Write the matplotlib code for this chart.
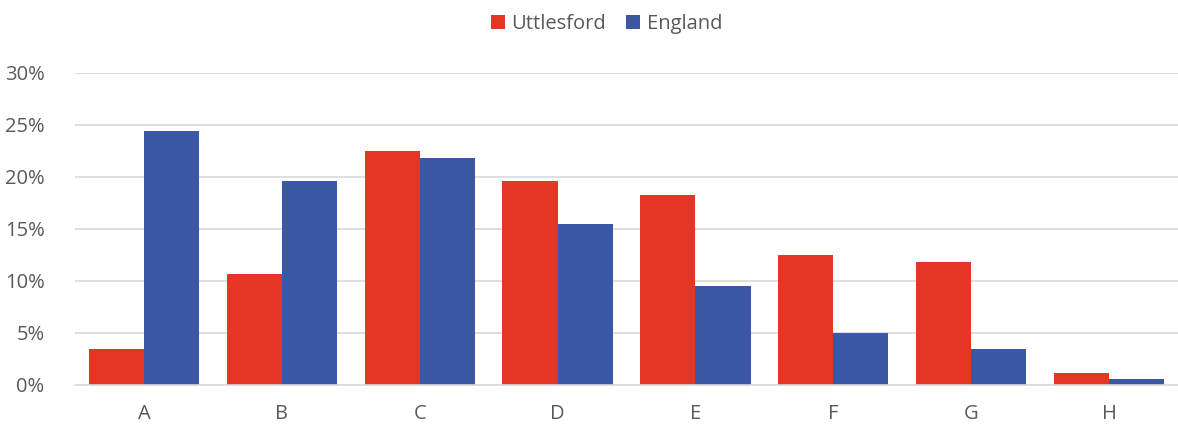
import matplotlib

matplotlib.use("Agg")
import matplotlib.pyplot as plt
import numpy as np
from matplotlib.ticker import PercentFormatter

categories = ["A", "B", "C", "D", "E", "F", "G", "H"]
uttlesford = [3.5, 10.7, 22.5, 19.6, 18.3, 12.5, 11.8, 1.2]
england = [24.4, 19.6, 21.8, 15.5, 9.5, 5.0, 3.5, 0.6]

RED = "#E43525"
BLUE = "#3C57A4"
TEXT = "#595959"
GRID = "#D9D9D9"

plt.rcParams["font.family"] = ["Open Sans", "DejaVu Sans"]

fig = plt.figure(figsize=(11.78, 4.28), dpi=100)
ax = fig.add_axes([75 / 1178, 43 / 428, 1103 / 1178, 312 / 428])

x = np.arange(len(categories))
w = 0.4
ax.bar(x - w / 2, uttlesford, w, color=RED, label="Uttlesford")
ax.bar(x + w / 2, england, w, color=BLUE, label="England")

ax.set_xlim(-0.5, len(categories) - 0.5)
ax.set_ylim(0, 30)
ax.set_yticks(np.arange(0, 31, 5))
ax.yaxis.set_major_formatter(PercentFormatter(decimals=0))
ax.set_xticks(x)
ax.set_xticklabels(categories)
ax.tick_params(axis="both", length=0, labelsize=14.5, colors=TEXT)
ax.tick_params(axis="y", pad=22)
ax.tick_params(axis="x", pad=14)

ax.grid(axis="y", color=GRID, linewidth=1.2)
ax.set_axisbelow(True)
for side in ["top", "right", "left"]:
    ax.spines[side].set_visible(False)
ax.spines["bottom"].set_color(GRID)
ax.spines["bottom"].set_linewidth(1.2)

fig.legend(
    loc="upper center",
    bbox_to_anchor=(0.515, 1.01),
    ncol=2,
    frameon=False,
    fontsize=14.5,
    handlelength=0.7,
    handleheight=0.7,
    handletextpad=0.3,
    columnspacing=1.0,
    labelcolor=TEXT,
)

fig.savefig("out.png", dpi=100)
